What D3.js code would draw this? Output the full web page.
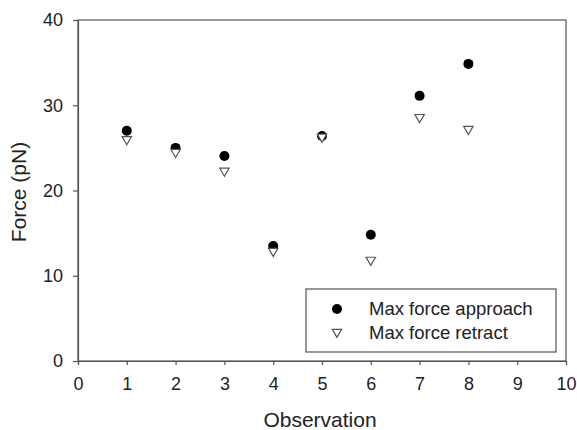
<!DOCTYPE html>
<html><head><meta charset="utf-8">
<script src="https://cdn.jsdelivr.net/npm/d3@7"></script>
<style>body{margin:0;background:#fff}svg{display:block}</style>
</head><body>
<script>
const observations = [1,2,3,4,5,6,7,8];
const approach = [27.0, 25.0, 24.05, 13.5, 26.4, 14.8, 31.1, 34.85];
const retract  = [26.0, 24.5, 22.3, 12.9, 26.3, 11.85, 28.6, 27.2];
const xTicks = [0,1,2,3,4,5,6,7,8,9,10];
const yTicks = [0,10,20,30,40];
const seriesNames = ["Max force approach", "Max force retract"];

(function(){
const W = 577, H = 430;
const svg = d3.select("body").append("svg").attr("width", W).attr("height", H);
const mLeft = 78, mRight = 566, mTop = 20, mBottom = 361;
const x = d3.scaleLinear().domain([0,10]).range([mLeft, mRight]);
const y = d3.scaleLinear().domain([0,40]).range([mBottom, mTop]);
const axisColor = "#555", textColor = "#222", font = "Liberation Sans, Arial, sans-serif";

svg.append("rect").attr("x", mLeft).attr("y", mTop).attr("width", mRight-mLeft).attr("height", mBottom-mTop)
  .attr("fill","none").attr("stroke", axisColor).attr("stroke-width", 1.2);

const xAxis = svg.append("g").attr("transform", `translate(0,${mBottom})`)
  .call(d3.axisBottom(x).tickValues(xTicks).tickSize(4).tickPadding(12).tickFormat(d3.format("d")));
const yAxis = svg.append("g").attr("transform", `translate(${mLeft},0)`)
  .call(d3.axisLeft(y).tickValues(yTicks).tickSize(5).tickPadding(10).tickFormat(d3.format("d")));
[xAxis, yAxis].forEach(a => {
  a.select(".domain").attr("stroke", axisColor).attr("stroke-width", 1.2);
  a.selectAll(".tick line").attr("stroke", axisColor).attr("stroke-width", 1.2);
  a.selectAll(".tick text").attr("fill", textColor).style("font-family", font).style("font-size", "18px");
});

svg.append("text").attr("x", 320).attr("y", 427).attr("text-anchor","middle")
  .attr("fill", textColor).style("font-family", font).style("font-size","21px").text("Observation");
svg.append("text").attr("transform", `translate(26,192) rotate(-90)`).attr("text-anchor","middle")
  .attr("fill", textColor).style("font-family", font).style("font-size","21px").text("Force (pN)");

const tri = d3.symbol().type(d3.symbolTriangle).size(38);
svg.append("g").selectAll("circle").data(observations).join("circle")
  .attr("cx", d => x(d)).attr("cy", (d,i) => y(approach[i])).attr("r", 5).attr("fill","#000");
svg.append("g").selectAll("path").data(observations).join("path")
  .attr("d", tri).attr("transform", (d,i) => `translate(${x(d)},${y(retract[i])}) rotate(180)`)
  .attr("fill","#fff").attr("stroke","#555").attr("stroke-width",1.2);

const lg = svg.append("g");
lg.append("rect").attr("x", 306).attr("y", 289).attr("width", 250).attr("height", 63)
  .attr("fill","#fff").attr("stroke", axisColor).attr("stroke-width", 1.2);
lg.append("circle").attr("cx", 337).attr("cy", 309).attr("r", 5).attr("fill","#000");
lg.append("path").attr("d", tri).attr("transform","translate(337,332) rotate(180)")
  .attr("fill","#fff").attr("stroke","#555").attr("stroke-width",1.2);
lg.selectAll("text").data(seriesNames).join("text")
  .attr("x", 369).attr("y", (d,i) => 309 + i*23.5).attr("dy","0.35em")
  .attr("fill", textColor).style("font-family", font).style("font-size","18.5px").text(d => d);
})();
</script>
</body></html>
